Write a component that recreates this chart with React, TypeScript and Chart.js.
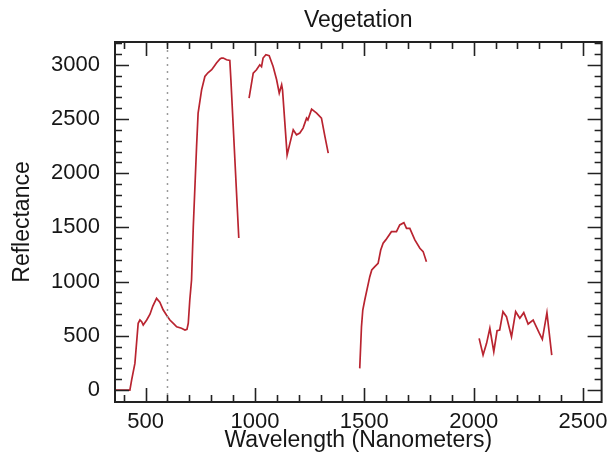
import React, { useEffect, useRef } from "react";
import { Chart, registerables } from "chart.js";

Chart.register(...registerables);

// ---- data (wavelength in nm, reflectance) ----
const seg1Wavelength = [360, 428, 436, 451, 466, 474, 482, 489, 505, 520, 533, 550, 565, 580, 596, 611, 629, 642, 664, 680, 689, 695, 702, 710, 718, 733, 740, 756, 771, 785, 802, 812, 824, 840, 847, 855, 870, 885, 890, 926];
const seg1Reflectance = [0, 0, 92, 246, 616, 646, 630, 600, 646, 700, 775, 846, 810, 740, 690, 646, 610, 584, 570, 554, 560, 616, 831, 1015, 1508, 2246, 2554, 2769, 2892, 2926, 2954, 2982, 3016, 3053, 3062, 3062, 3046, 3040, 2860, 1403];

const seg2Wavelength = [973, 992, 1007, 1022, 1030, 1037, 1050, 1065, 1083, 1099, 1111, 1122, 1126, 1147, 1160, 1175, 1190, 1205, 1220, 1236, 1242, 1259, 1282, 1304, 1320, 1335];
const seg2Reflectance = [2693, 2923, 2954, 3000, 2982, 3062, 3092, 3083, 2984, 2862, 2739, 2815, 2769, 2169, 2277, 2400, 2354, 2370, 2416, 2508, 2492, 2591, 2554, 2508, 2338, 2185];

const seg3Wavelength = [1479, 1487, 1493, 1502, 1525, 1534, 1548, 1563, 1575, 1586, 1598, 1624, 1647, 1662, 1681, 1693, 1708, 1731, 1754, 1769, 1784];
const seg3Reflectance = [200, 584, 738, 831, 1046, 1108, 1138, 1169, 1292, 1354, 1385, 1461, 1461, 1523, 1544, 1492, 1492, 1385, 1308, 1277, 1184];

const seg4Wavelength = [2025, 2043, 2059, 2074, 2092, 2107, 2119, 2134, 2150, 2173, 2192, 2211, 2229, 2249, 2272, 2299, 2314, 2335, 2357];
const seg4Reflectance = [477, 323, 431, 570, 354, 547, 554, 723, 677, 492, 723, 662, 714, 609, 646, 529, 468, 714, 323];

const markerWavelength = [600, 600];
const markerReflectance = [-110, 3210];

const xTickValues = [500, 1000, 1500, 2000, 2500];
const yTickValues = [0, 500, 1000, 1500, 2000, 2500, 3000];
const minorStep = 100;
const majorStep = 500;

const X_MIN = 360;
const X_MAX = 2585;
const Y_MIN = -110;
const Y_MAX = 3210;

const FONT = "'Liberation Sans', Arial, Helvetica, sans-serif";
const TEXT_COLOR = "#161616";
const LINE_COLOR = "rgb(185, 36, 48)";

const toPoints = (xs: number[], ys: number[]) => xs.map((x, i) => ({ x, y: ys[i] }));

const insideTicks = {
  id: "insideTicks",
  afterDatasetsDraw(chart: any) {
    const { ctx, chartArea: a, scales } = chart;
    const x = scales.x;
    const y = scales.y;
    ctx.save();
    ctx.strokeStyle = "#222";
    ctx.lineWidth = 1.6;
    ctx.beginPath();
    for (let v = Math.ceil(x.min / minorStep) * minorStep; v <= x.max; v += minorStep) {
      const px = Math.round(x.getPixelForValue(v)) + 0.5;
      if (px <= a.left + 1 || px >= a.right - 1) continue;
      const len = v % majorStep === 0 ? 14 : 7;
      ctx.moveTo(px, a.bottom);
      ctx.lineTo(px, a.bottom - len);
      ctx.moveTo(px, a.top);
      ctx.lineTo(px, a.top + len);
    }
    for (let v = Math.ceil(y.min / minorStep) * minorStep; v <= y.max; v += minorStep) {
      const py = Math.round(y.getPixelForValue(v)) + 0.5;
      if (py <= a.top + 1 || py >= a.bottom - 1) continue;
      const len = v % majorStep === 0 ? 14 : 7;
      ctx.moveTo(a.left, py);
      ctx.lineTo(a.left + len, py);
      ctx.moveTo(a.right, py);
      ctx.lineTo(a.right - len, py);
    }
    ctx.stroke();
    ctx.lineWidth = 2;
    ctx.strokeRect(a.left, a.top, a.right - a.left, a.bottom - a.top);
    ctx.restore();
  },
};

export default function App() {
  const ref = useRef<HTMLCanvasElement | null>(null);

  useEffect(() => {
    if (!ref.current) return;
    const lineDs = (xs: number[], ys: number[]) => ({
      data: toPoints(xs, ys),
      showLine: true,
      borderColor: LINE_COLOR,
      borderWidth: 1.7,
      pointRadius: 0,
      tension: 0,
    });
    const chart = new Chart(ref.current, {
      type: "scatter",
      data: {
        datasets: [
          {
            data: toPoints(markerWavelength, markerReflectance),
            showLine: true,
            borderColor: "#9a9a9a",
            borderWidth: 1.5,
            borderDash: [2, 5],
            pointRadius: 0,
          },
          lineDs(seg1Wavelength, seg1Reflectance),
          lineDs(seg2Wavelength, seg2Reflectance),
          lineDs(seg3Wavelength, seg3Reflectance),
          lineDs(seg4Wavelength, seg4Reflectance),
        ],
      },
      options: {
        responsive: false,
        animation: false,
        devicePixelRatio: 1,
        layout: { padding: { left: 0, right: 13, top: 0, bottom: 0 } },
        plugins: {
          legend: { display: false },
          tooltip: { enabled: false },
          title: {
            display: true,
            fullSize: false,
            text: "Vegetation",
            color: TEXT_COLOR,
            font: { family: FONT, size: 23, weight: "normal" },
            padding: { top: 7, bottom: 7.4 },
          },
        },
        scales: {
          x: {
            type: "linear",
            min: X_MIN,
            max: X_MAX,
            afterBuildTicks: (s: any) => {
              s.ticks = xTickValues.map((v) => ({ value: v }));
            },
            afterFit: (s: any) => {
              s.height = 53;
            },
            grid: { display: false, drawTicks: false },
            border: { display: false },
            ticks: {
              padding: 7,
              color: TEXT_COLOR,
              font: { family: FONT, size: 22 },
              maxRotation: 0,
              autoSkip: false,
              callback: (v: any) => String(v),
            },
            title: {
              display: true,
              text: "Wavelength (Nanometers)",
              color: TEXT_COLOR,
              font: { family: FONT, size: 23 },
              padding: { top: 0, bottom: 1 },
            },
          },
          y: {
            type: "linear",
            min: Y_MIN,
            max: Y_MAX,
            afterBuildTicks: (s: any) => {
              s.ticks = yTickValues.map((v) => ({ value: v }));
            },
            afterFit: (s: any) => {
              s.width = 115;
            },
            grid: { display: false, drawTicks: false },
            border: { display: false },
            ticks: {
              padding: 15,
              color: TEXT_COLOR,
              font: { family: FONT, size: 22 },
              autoSkip: false,
              callback: (v: any) => String(v),
            },
            title: {
              display: true,
              text: "Reflectance",
              color: TEXT_COLOR,
              font: { family: FONT, size: 23 },
              padding: { top: 9, bottom: 0 },
            },
          },
        },
      },
      plugins: [insideTicks],
    } as any);
    return () => chart.destroy();
  }, []);

  return (
    <div style={{ position: "fixed", left: 0, top: 0, width: 615, height: 455, background: "#fff" }}>
      <canvas ref={ref} width={615} height={455} />
    </div>
  );
}
